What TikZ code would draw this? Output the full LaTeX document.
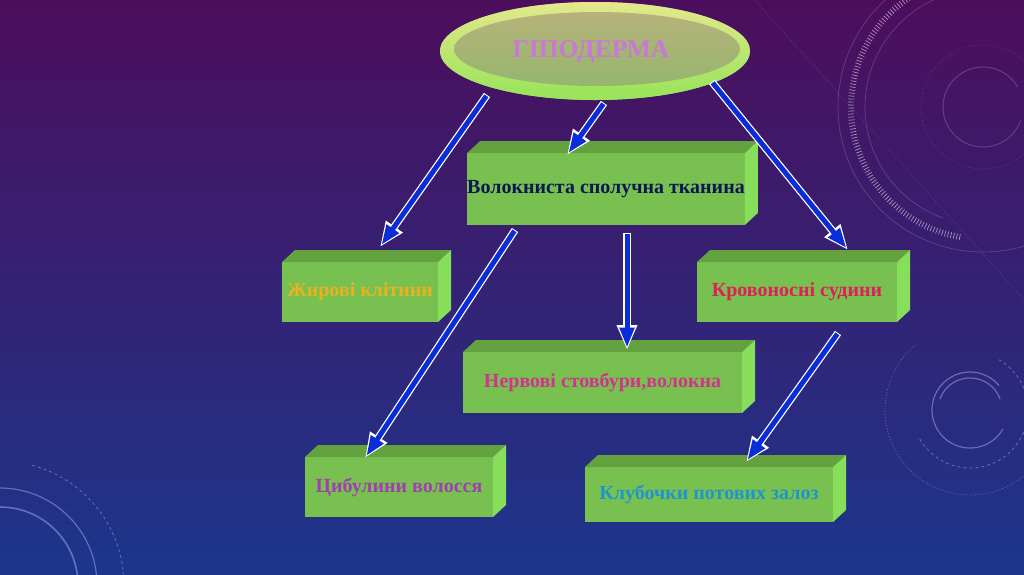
\documentclass[tikz,border=0pt]{standalone}
\usepackage{fontspec}
\setmainfont{Liberation Serif}
\usetikzlibrary{arrows.meta,calc,shapes.geometric}
\definecolor{bgtop}{RGB}{76,14,92}
\definecolor{bgmid}{RGB}{50,32,114}
\definecolor{bgbot}{RGB}{28,54,140}
\definecolor{frontgreen}{RGB}{120,193,80}
\definecolor{topgreen}{RGB}{100,162,64}
\definecolor{sidegreen}{RGB}{134,222,90}
\definecolor{arrowblue}{RGB}{10,45,215}
\definecolor{rimtop}{RGB}{228,232,140}
\definecolor{rimbot}{RGB}{150,228,88}
\definecolor{lenstop}{RGB}{182,178,122}
\definecolor{lensbot}{RGB}{150,182,110}
\definecolor{hypcol}{RGB}{200,120,215}
\definecolor{fatcol}{RGB}{232,178,32}
\definecolor{volcol}{RGB}{12,22,80}
\definecolor{bloodcol}{RGB}{226,30,90}
\definecolor{nervecol}{RGB}{208,52,140}
\definecolor{haircol}{RGB}{160,64,176}
\definecolor{sweatcol}{RGB}{30,150,205}
\tikzset{
  boxnode/.style={fill=frontgreen, inner sep=0pt, outer sep=0pt,
    font=\fontsize{20}{24}\selectfont\bfseries},
  deco/.style={white, opacity=0.18, line width=0.7pt},
  decob/.style={white!80!blue, opacity=0.4, line width=1.2pt},
}
\newcommand\cuboidfaces[1]{%
  \fill[topgreen] (#1.north west) -- ++(13,-12) -- ($(#1.north east)+(13,-12)$) -- (#1.north east) -- cycle;
  \fill[sidegreen] (#1.north east) -- ++(13,-12) -- ($(#1.south east)+(13,-12)$) -- (#1.south east) -- cycle;
}
\newcommand\bluearrow[2]{%
  \draw[white, line width=7.5pt, -{Triangle[length=25pt,width=19pt]}] #1 -- #2;
  \draw[arrowblue, line width=5pt, shorten >=2.4pt, shorten <=1pt, -{Triangle[length=20pt,width=14pt]}] #1 -- #2;
}
\begin{document}
\begin{tikzpicture}[x=1pt,y=-1pt]
\useasboundingbox (0,0) rectangle (1024,574);
\shade[top color=bgtop, middle color=bgmid, bottom color=bgbot] (0,0) rectangle (1024,574);
% background decoration
\begin{scope}[deco]
  \draw (983,107) ++(110:118) arc (110:260:118);
  \draw (983,107) circle (145);
  \draw[line width=6pt, opacity=0.6, dash pattern=on 0.6pt off 2.4pt] (983,107) ++(100:132) arc (100:280:132);
  \draw[dotted] (983,107) circle (62);
  \draw[line width=1pt] (983,107) ++(20:40) arc (20:330:40);
  \draw[dotted] (755,0) -- (1024,300);
\end{scope}
\begin{scope}[decob]
  \draw (970,410) ++(30:38) arc (30:320:38);
  \draw (970,410) ++(-20:32) arc (-20:-160:32);
  \draw[dashed, line width=0.8pt] (970,410) ++(150:58) arc (150:-60:58);
  \draw[dotted, line width=0.8pt] (970,410) ++(230:85) arc (230:20:85);
  \draw (0,585) circle (97);
  \draw[line width=1.6pt] (0,585) circle (78);
  \draw[dashed, line width=0.8pt] (0,585) ++(-75:124) arc (-75:-5:124);
\end{scope}
% hypodermis disc
\node[ellipse, fill=rimbot, minimum width=310, minimum height=98, inner sep=0pt] (hyp) at (595,51) {};
\shade[top color=rimtop, bottom color=rimbot] (595,51) ellipse (155 and 49);
\shade[top color=lenstop, bottom color=lensbot] (597,49) ellipse (143 and 37);
\node[font=\fontsize{25.5}{28}\selectfont\bfseries, text=hypcol] (hyptext) at (591,52) {ГІПОДЕРМА};
% boxes
\node[boxnode, minimum width=272, minimum height=72, text=volcol] (vol) at (606,189) {Волокниста сполучна тканина};
\cuboidfaces{vol}
\node[boxnode, minimum width=156, minimum height=60, text=fatcol] (fat) at (360,292) {Жирові клітини};
\cuboidfaces{fat}
\node[boxnode, minimum width=200, minimum height=60, text=bloodcol] (blood) at (797,292) {Кровоносні судини};
\cuboidfaces{blood}
\node[boxnode, minimum width=279, minimum height=61, text=nervecol] (nerve) at (602.5,382.5) {Нервові стовбури,волокна};
\cuboidfaces{nerve}
\node[boxnode, minimum width=188, minimum height=60, text=haircol] (hair) at (399,487) {Цибулини волосся};
\cuboidfaces{hair}
\node[boxnode, minimum width=248, minimum height=55, text=sweatcol] (sweat) at (709,494.5) {Клубочки потових залоз};
\cuboidfaces{sweat}
% arrows
\bluearrow{($(hyp.center)+(-108,44)$)}{($(fat.center)+(20,-45)$)}
\bluearrow{($(hyp.center)+(9,52)$)}{($(vol.center)+(-39,-34)$)}
\bluearrow{($(hyp.center)+(117,31)$)}{($(blood.center)+(51,-42)$)}
\bluearrow{($(vol.center)+(-91,41)$)}{($(hair.center)+(-34,-29)$)}
\bluearrow{($(vol.center)+(21,44)$)}{($(nerve.center)+(24.5,-32.5)$)}
\bluearrow{($(blood.center)+(41,41)$)}{($(sweat.center)+(37,-32.5)$)}
\end{tikzpicture}
\end{document}
